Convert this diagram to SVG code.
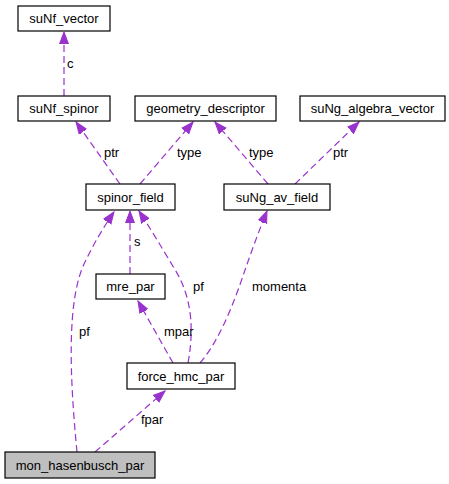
<svg xmlns="http://www.w3.org/2000/svg" width="449" height="484" viewBox="0 0 449 484">
<style>
.n rect{fill:#fff;stroke:#000;stroke-width:1.2}
.n text,.l{font-family:"Liberation Sans",Arial,sans-serif;font-size:13px;fill:#000}
.n text{text-anchor:middle}
.e path{fill:none;stroke:#9a32cd;stroke-width:1.2;stroke-dasharray:7,4}
</style>
<defs>
<marker id="a" markerUnits="userSpaceOnUse" markerWidth="14" markerHeight="12" refX="12" refY="5" orient="auto" viewBox="0 0 14 10">
<path d="M0,0.5 L12,5 L0,9.5 Z" fill="#9a32cd" stroke="#9a32cd"/>
</marker>
</defs>
<g id="edges" class="e">
<path d="M64,96 L64,32" marker-end="url(#a)"/>
<path d="M120,184 L76,122" marker-end="url(#a)"/>
<path d="M140,184 L193,122" marker-end="url(#a)"/>
<path d="M268,184 L215,122" marker-end="url(#a)"/>
<path d="M295,184 L359,122" marker-end="url(#a)"/>
<path d="M130,274 L130,211" marker-end="url(#a)"/>
<path d="M77,452 C70,380 66,300 85,262 Q98,235 114,212" marker-end="url(#a)"/>
<path d="M188,363 C196,320 188,290 174,268 C162,248 150,228 139,211" marker-end="url(#a)"/>
<path d="M173,363 L138,301" marker-end="url(#a)"/>
<path d="M200,363 C220,340 235,300 245,270 C252,250 260,228 267,211" marker-end="url(#a)"/>
<path d="M95,452 L165,391" marker-end="url(#a)"/>
</g>
<g id="labels">
<text class="l" x="67" y="68">c</text>
<text class="l" x="104" y="157">ptr</text>
<text class="l" x="177" y="157">type</text>
<text class="l" x="249" y="157">type</text>
<text class="l" x="333" y="157">ptr</text>
<text class="l" x="134" y="246">s</text>
<text class="l" x="79" y="336">pf</text>
<text class="l" x="193" y="291">pf</text>
<text class="l" x="164" y="336">mpar</text>
<text class="l" x="252" y="291">momenta</text>
<text class="l" x="141" y="424">fpar</text>
</g>
<g id="suNf_vector" class="n"><rect x="18" y="6" width="92" height="25"/><text x="64" y="23">suNf_vector</text></g>
<g id="suNf_spinor" class="n"><rect x="18" y="96" width="92" height="25"/><text x="64" y="113">suNf_spinor</text></g>
<g id="geometry_descriptor" class="n"><rect x="135" y="96" width="141" height="25"/><text x="205.5" y="113">geometry_descriptor</text></g>
<g id="suNg_algebra_vector" class="n"><rect x="300" y="96" width="145" height="25"/><text x="372.5" y="113">suNg_algebra_vector</text></g>
<g id="spinor_field" class="n"><rect x="86" y="184" width="89" height="26"/><text x="130.5" y="201.5">spinor_field</text></g>
<g id="suNg_av_field" class="n"><rect x="224" y="184" width="106" height="26"/><text x="277" y="201.5">suNg_av_field</text></g>
<g id="mre_par" class="n"><rect x="96" y="274" width="69" height="25"/><text x="130.5" y="291">mre_par</text></g>
<g id="force_hmc_par" class="n"><rect x="127" y="363" width="108" height="26"/><text x="181" y="380.5">force_hmc_par</text></g>
<g id="mon_hasenbusch_par" class="n"><rect x="5" y="452" width="150" height="26" style="fill:#bfbfbf"/><text x="80" y="469.5">mon_hasenbusch_par</text></g>
</svg>
